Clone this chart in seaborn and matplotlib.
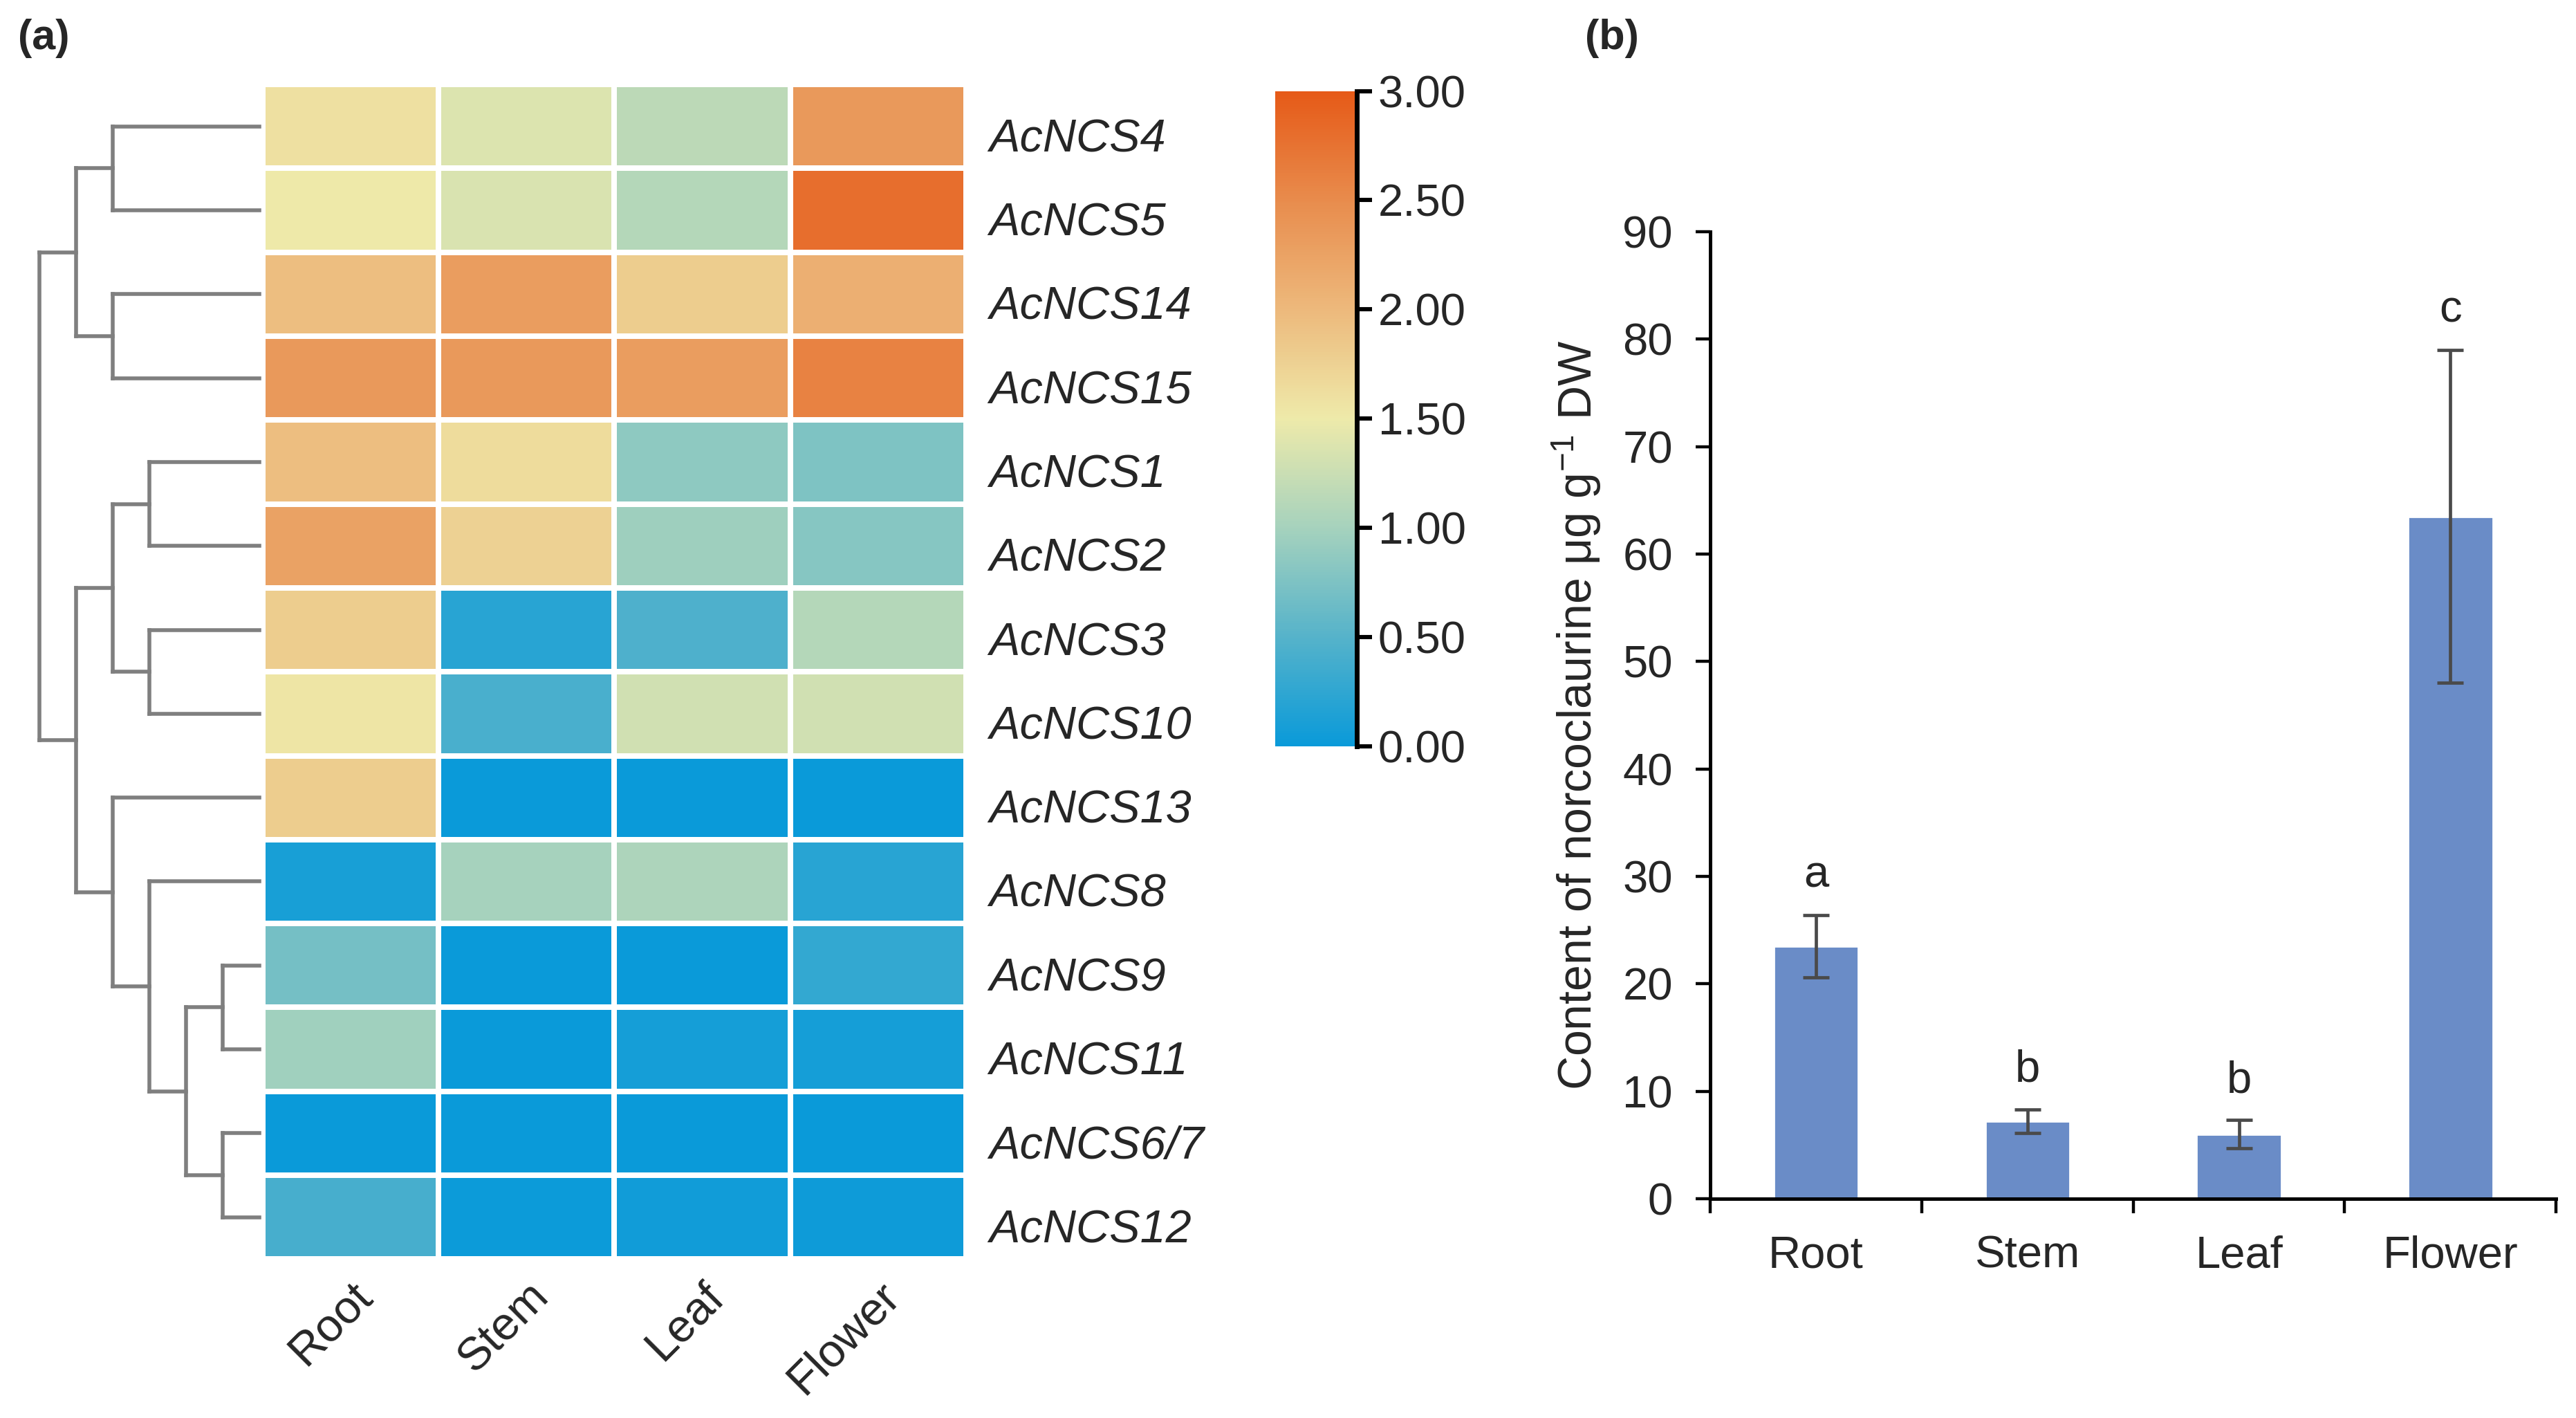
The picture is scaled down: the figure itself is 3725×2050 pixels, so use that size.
import numpy as np
import pandas as pd
import matplotlib
matplotlib.use("Agg")
import matplotlib.pyplot as plt
from matplotlib.colors import LinearSegmentedColormap
from matplotlib.transforms import ScaledTranslation
import seaborn as sns

# ---------------- data ----------------
genes = ["AcNCS4", "AcNCS5", "AcNCS14", "AcNCS15", "AcNCS1", "AcNCS2", "AcNCS3",
         "AcNCS10", "AcNCS13", "AcNCS8", "AcNCS9", "AcNCS11", "AcNCS6/7", "AcNCS12"]
tissues = ["Root", "Stem", "Leaf", "Flower"]
root_vals = [1.60, 1.50, 1.95, 2.35, 1.95, 2.25, 1.80, 1.55, 1.80, 0.10, 0.70, 0.97, 0.00, 0.40]
stem_vals = [1.38, 1.35, 2.30, 2.35, 1.65, 1.75, 0.20, 0.42, 0.00, 1.00, 0.00, 0.00, 0.00, 0.02]
leaf_vals = [1.15, 1.10, 1.80, 2.30, 0.85, 0.95, 0.45, 1.30, 0.00, 1.05, 0.00, 0.08, 0.00, 0.05]
flower_vals = [2.35, 2.80, 2.10, 2.60, 0.75, 0.80, 1.10, 1.30, 0.00, 0.20, 0.28, 0.08, 0.00, 0.03]

# dendrogram merges: (child_a, child_b, height); "mK" refers to the K-th merge
merges = [
    ("AcNCS9", "AcNCS11", 1),
    ("AcNCS6/7", "AcNCS12", 1),
    ("m0", "m1", 2),
    ("AcNCS1", "AcNCS2", 3),
    ("AcNCS3", "AcNCS10", 3),
    ("AcNCS8", "m2", 3),
    ("AcNCS4", "AcNCS5", 4),
    ("AcNCS14", "AcNCS15", 4),
    ("m3", "m4", 4),
    ("AcNCS13", "m5", 4),
    ("m6", "m7", 5),
    ("m8", "m9", 5),
    ("m10", "m11", 6),
]

cbar_ticks = [0.0, 0.5, 1.0, 1.5, 2.0, 2.5, 3.0]

bar_labels = ["Root", "Stem", "Leaf", "Flower"]
bar_means = [23.5, 7.2, 6.0, 63.5]
bar_sd = [2.9, 1.1, 1.3, 15.5]
bar_letters = ["a", "b", "b", "c"]
y_ticks = [0, 10, 20, 30, 40, 50, 60, 70, 80, 90]

# ---------------- style ----------------
sns.set_style("white")
plt.rcParams["font.family"] = ["Liberation Sans", "DejaVu Sans"]
plt.rcParams["mathtext.fontset"] = "custom"
plt.rcParams["mathtext.rm"] = "Liberation Sans"
plt.rcParams["mathtext.it"] = "Liberation Sans:italic"

cmap = LinearSegmentedColormap.from_list(
    "ncs", ["#0A9AD9", "#56B3CA", "#A6D2BD", "#EEEAAA", "#EDB97C", "#E88C4D", "#E65A18"])

fig = plt.figure(figsize=(18.625, 10.25), dpi=200)

ax_d = fig.add_axes([0.0153, 0.112, 0.0855, 0.8285])
ax_h = fig.add_axes([0.1020, 0.112, 0.2730, 0.8285])
ax_c = fig.add_axes([0.4949, 0.4737, 0.0319, 0.4621])
ax_b = fig.add_axes([0.6639, 0.1547, 0.3284, 0.6819])

# ---------------- heatmap ----------------
df = pd.DataFrame({"Root": root_vals, "Stem": stem_vals, "Leaf": leaf_vals,
                   "Flower": flower_vals}, index=genes)[tissues]
sns.heatmap(df, ax=ax_h, cmap=cmap, vmin=0, vmax=3, linewidths=2.2, linecolor="white",
            cbar_ax=ax_c, cbar_kws={"ticks": cbar_ticks, "format": "%.2f"})
ax_h.yaxis.tick_right()
ax_h.set_yticklabels(genes, rotation=0, fontsize=24, fontstyle="italic")
ax_h.set_xticklabels(tissues, rotation=45, ha="right", va="top",
                     rotation_mode="anchor", fontsize=24)
ax_h.tick_params(axis="y", length=0, pad=12)
ax_h.tick_params(axis="x", length=0, pad=8)
shift_down = ScaledTranslation(0, -4.5 / 72, fig.dpi_scale_trans)
for lab in ax_h.get_yticklabels():
    lab.set_transform(lab.get_transform() + shift_down)
ax_h.set_xlabel("")
ax_h.set_ylabel("")

# colorbar
cb = ax_h.collections[0].colorbar
cb.outline.set_visible(False)
ax_c.spines["right"].set_visible(True)
ax_c.spines["right"].set_linewidth(2.5)
ax_c.spines["right"].set_color("black")
ax_c.tick_params(axis="y", length=8, width=2.2, labelsize=23.5, pad=3, color="black")

# ---------------- dendrogram ----------------
ypos = {g: i + 0.5 for i, g in enumerate(genes)}
hgt = {g: 0.0 for g in genes}
for k, (a, b, h) in enumerate(merges):
    ya, yb = ypos[a], ypos[b]
    line_kw = dict(color="#7F7F7F", lw=2.0, solid_capstyle="projecting", clip_on=False)
    ax_d.plot([h, h], [ya, yb], **line_kw)
    ax_d.plot([hgt[a], h], [ya, ya], **line_kw)
    ax_d.plot([hgt[b], h], [yb, yb], **line_kw)
    name = "m%d" % k
    ypos[name] = (ya + yb) / 2.0
    hgt[name] = h
ax_d.set_xlim(max(m[2] for m in merges), 0)
ax_d.set_ylim(len(genes), 0)
ax_d.axis("off")

# ---------------- bar chart ----------------
bdf = pd.DataFrame({"tissue": bar_labels, "value": bar_means})
sns.barplot(data=bdf, x="tissue", y="value", ax=ax_b, color="#6A8CC7",
            width=0.4, errorbar=None, saturation=1)
xs = np.arange(len(bar_labels))
ax_b.errorbar(xs, bar_means, yerr=bar_sd, fmt="none", ecolor="#4A4A4A",
              elinewidth=1.7, capsize=7, capthick=1.7)
for x, m, s, lab in zip(xs, bar_means, bar_sd, bar_letters):
    ax_b.text(x, m + s + 2.6, lab, ha="center", va="baseline", fontsize=23.5)

ax_b.set_xlim(-0.5, len(bar_labels) - 0.5)
ax_b.set_ylim(0, 90)
ax_b.set_yticks(y_ticks)
ax_b.set_xticks(xs)
ax_b.set_xticks(np.arange(len(bar_labels) + 1) - 0.5, minor=True)
ax_b.tick_params(axis="x", which="major", length=0, pad=19, labelsize=23.5)
ax_b.tick_params(axis="x", which="minor", length=7.5, width=1.6, direction="out",
                 color="black", bottom=True)
ax_b.tick_params(axis="y", length=7.5, width=1.6, direction="out", pad=12,
                 labelsize=23.5, color="black", left=True)
for side in ["top", "right"]:
    ax_b.spines[side].set_visible(False)
for side in ["left", "bottom"]:
    ax_b.spines[side].set_linewidth(1.8)
    ax_b.spines[side].set_color("black")
ax_b.set_xlabel("")
ax_b.set_ylabel(r"Content of norcoclaurine μg g$\mathregular{^{-1}}$ DW",
                fontsize=24.5, labelpad=10)

# panel labels
fig.text(0.007, 0.9727, "(a)", fontsize=22, fontweight="bold", ha="left", va="center")
fig.text(0.6153, 0.9727, "(b)", fontsize=22, fontweight="bold", ha="left", va="center")

fig.savefig("out.png", dpi=200, facecolor="white")
